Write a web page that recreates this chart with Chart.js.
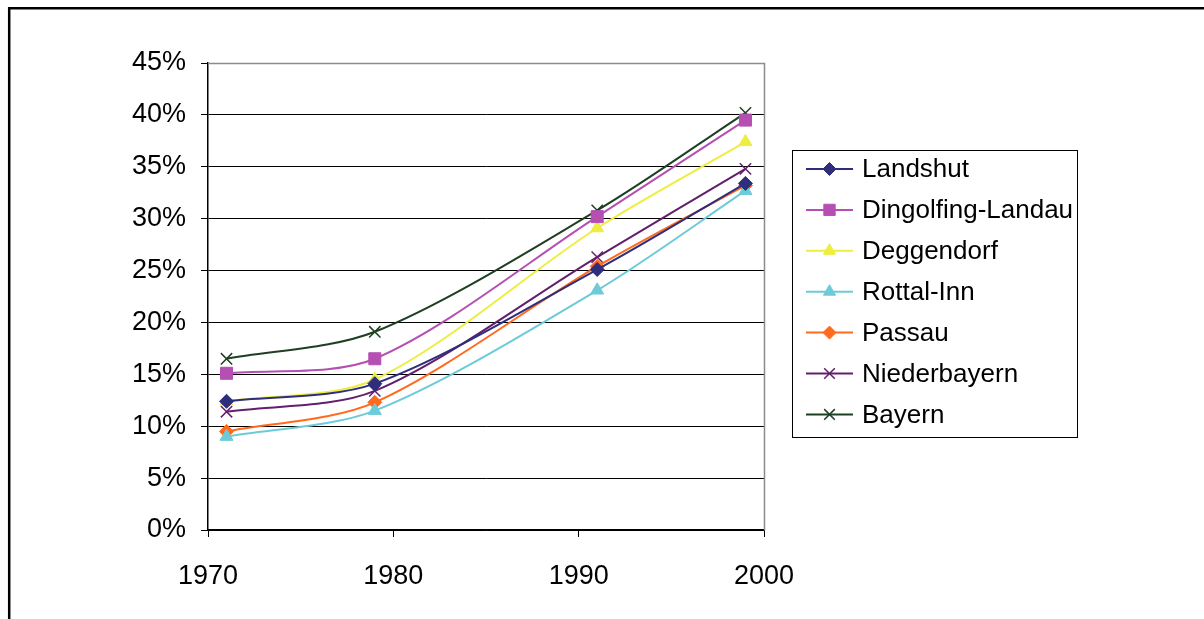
<!DOCTYPE html>
<html>
<head>
<meta charset="utf-8">
<script src="https://cdn.jsdelivr.net/npm/chart.js@4.4.0/dist/chart.umd.min.js"></script>
<style>
html,body{margin:0;padding:0;background:#fff;}
#wrap{position:relative;width:1204px;height:619px;}
</style>
</head>
<body>
<div id="wrap"><canvas id="c" width="1204" height="619"></canvas></div>
<script>
const years = [1971, 1979, 1991, 1999];
const seriesNames = ["Landshut", "Dingolfing-Landau", "Deggendorf", "Rottal-Inn", "Passau", "Niederbayern", "Bayern"];
const landshut    = [0.124, 0.141, 0.251, 0.334];
const dingolfing  = [0.151, 0.165, 0.302, 0.395];
const deggendorf  = [0.124, 0.145, 0.291, 0.374];
const rottalInn   = [0.090, 0.115, 0.231, 0.327];
const passau      = [0.095, 0.123, 0.254, 0.332];
const niederbayern= [0.114, 0.134, 0.263, 0.348];
const bayern      = [0.165, 0.191, 0.308, 0.402];
const yTicks = [0, 0.05, 0.10, 0.15, 0.20, 0.25, 0.30, 0.35, 0.40, 0.45];
const xTicks = [1970, 1980, 1990, 2000];

const colors = ["#2E2E7C", "#B550B2", "#EEEE40", "#6CCBD9", "#FF6A1E", "#621F6C", "#1F3F22"];
const styles = ["rectRot", "rect", "triangle", "triangle", "rectRot", "crossRot", "crossRot"];
const radii  = [7, 8.5, 7.5, 7.5, 7, 8, 8];
const allValues = [landshut, dingolfing, deggendorf, rottalInn, passau, niederbayern, bayern];

const FONT = "'Liberation Sans', Arial, sans-serif";

const datasets = seriesNames.map((n, i) => ({
  label: n,
  data: years.map((y, j) => ({x: y, y: allValues[i][j]})),
  borderColor: colors[i],
  backgroundColor: colors[i],
  pointBackgroundColor: colors[i],
  pointBorderColor: colors[i],
  pointStyle: styles[i],
  pointRadius: radii[i],
  pointBorderWidth: (styles[i] === "crossRot") ? 1.5 : 1,
  borderWidth: 2,
  tension: 0.3,
  fill: false
}));

const framePlugin = {
  id: 'frame',
  beforeDraw(chart) {
    const ctx = chart.ctx;
    ctx.save();
    ctx.fillStyle = '#fff';
    ctx.fillRect(0, 0, chart.width, chart.height);
    ctx.strokeStyle = '#000';
    ctx.lineWidth = 2.5;
    ctx.beginPath();
    ctx.moveTo(9.2, 625);
    ctx.lineTo(9.2, 8.2);
    ctx.lineTo(1210, 8.2);
    ctx.stroke();
    ctx.restore();
  },
  afterDatasetsDraw(chart) {
    const ctx = chart.ctx;
    const a = chart.chartArea;
    ctx.save();
    ctx.strokeStyle = '#8c8c8c';
    ctx.lineWidth = 1.5;
    ctx.beginPath();
    ctx.moveTo(a.left, a.top + 0.5);
    ctx.lineTo(a.right + 0.5, a.top + 0.5);
    ctx.lineTo(a.right + 0.5, a.bottom);
    ctx.stroke();
    ctx.restore();
  },
  afterDraw(chart) {
    const ctx = chart.ctx;
    ctx.save();
    ctx.strokeStyle = '#000';
    ctx.lineWidth = 1;
    ctx.strokeRect(792.5, 150.5, 285, 287);
    const y0 = 169, step = 40.9;
    ctx.font = "26px " + FONT;
    ctx.textBaseline = 'middle';
    seriesNames.forEach((n, i) => {
      const y = y0 + i * step;
      ctx.strokeStyle = colors[i];
      ctx.lineWidth = 2;
      ctx.beginPath();
      ctx.moveTo(806, y);
      ctx.lineTo(853, y);
      ctx.stroke();
      ctx.fillStyle = colors[i];
      ctx.strokeStyle = colors[i];
      ctx.lineWidth = (styles[i] === "crossRot") ? 1.5 : 1;
      Chart.helpers.drawPoint(ctx, {
        pointStyle: styles[i], radius: radii[i] - 0.5, rotation: 0,
        borderWidth: (styles[i] === "crossRot") ? 1.5 : 1
      }, 829.5, y);
      ctx.fillStyle = '#000';
      ctx.fillText(n, 862, y + 1);
    });
    ctx.restore();
  }
};

new Chart(document.getElementById('c'), {
  type: 'line',
  data: { datasets },
  plugins: [framePlugin],
  options: {
    responsive: false,
    animation: false,
    devicePixelRatio: 1,
    layout: { padding: { left: 0, top: 63, right: 440, bottom: 0 } },
    plugins: { legend: { display: false }, tooltip: { enabled: false } },
    scales: {
      x: {
        type: 'linear',
        min: 1970, max: 2000,
        afterBuildTicks(scale) { scale.ticks = xTicks.map(v => ({value: v})); },
        afterFit(scale) { scale.height = 89; },
        grid: { color: 'rgba(0,0,0,0)', tickColor: '#000', tickLength: 7, drawOnChartArea: false, lineWidth: 1 },
        border: { color: '#000', width: 1.5 },
        ticks: { color: '#000', font: { family: FONT, size: 27 }, padding: 23, maxRotation: 0,
                 callback: v => String(v) }
      },
      y: {
        min: 0, max: 0.45,
        afterBuildTicks(scale) { scale.ticks = yTicks.map(v => ({value: v})); },
        afterFit(scale) { scale.width = 208; },
        grid: { color: '#000', tickColor: '#000', tickLength: 7, lineWidth: 1 },
        border: { color: '#000', width: 1.5 },
        ticks: { color: '#000', font: { family: FONT, size: 27 }, padding: 15,
                 callback: v => Math.round(v * 100) + '%' }
      }
    }
  }
});
</script>
</body>
</html>
